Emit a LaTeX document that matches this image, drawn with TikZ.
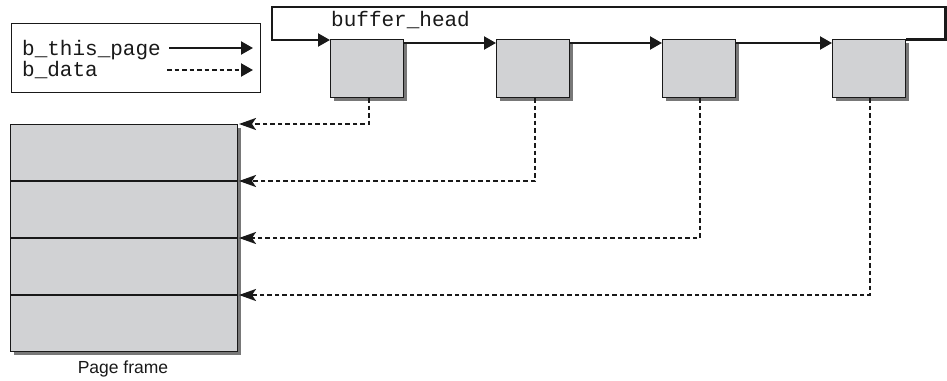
\documentclass[tikz,border=0pt]{standalone}
\usepackage{fontspec}
\setmainfont{Liberation Sans}
\setmonofont{Liberation Mono}
\usetikzlibrary{arrows.meta,shadows,calc}
\definecolor{boxfill}{RGB}{209,210,212}
\definecolor{shd}{RGB}{120,120,120}
\definecolor{ink}{RGB}{25,25,25}
\tikzset{
  bhbox/.style={draw=ink, line width=1.2pt, fill=boxfill, minimum width=73pt, minimum height=58pt, inner sep=0pt, anchor=north west,
    drop shadow={shadow xshift=3.5pt, shadow yshift=-3.5pt, fill=shd, opacity=1}},
  solidarr/.style={draw=ink, line width=2.1pt, -{Triangle[length=12pt,width=13pt]}},
  dasharr/.style={draw=ink, line width=2.1pt, dash pattern=on 4.5pt off 3pt, -{Stealth[length=17pt,width=12pt,inset=4pt]}},
  monotxt/.style={font=\ttfamily\fontsize{21}{24}\selectfont, text=ink, inner sep=0pt},
}
\begin{document}
\begin{tikzpicture}[x=1pt,y=-1pt]
\useasboundingbox (0,0) rectangle (947,380);
% legend
\node[draw=ink, line width=1.2pt, minimum width=249pt, minimum height=69pt, inner sep=0pt, anchor=north west] (legend) at (11,23) {};
\node[monotxt, anchor=base west] (lthis) at (22,55) {b\_this\_page};
\node[monotxt, anchor=base west] (ldata) at (22,76) {b\_data};
\coordinate (ls1) at (169,48);
\coordinate (le1) at (253,48);
\coordinate (ls2) at (167,70);
\coordinate (le2) at (253,70);
\draw[solidarr] (ls1) -- (le1);
\draw[dasharr, -{Triangle[length=12pt,width=13pt]}] (ls2) -- (le2);
% buffer heads
\node[bhbox] (b1) at (330,39) {};
\node[bhbox] (b2) at (496,39) {};
\node[bhbox] (b3) at (662,39) {};
\node[bhbox] (b4) at (832,39) {};
\node[monotxt, anchor=base west] (bhlabel) at (331,27) {buffer\_head};
% ring
\coordinate (c1) at (945.5,39.5);
\coordinate (c2) at (945.5,7);
\coordinate (c3) at (272,7);
\coordinate (c4) at (272,40);
\draw[solidarr] ($(b4.north east)+(0,0.5)$) -- (c1) -- (c2) -- (c3) -- (c4) -- ($(b1.north west)+(0,1)$);
\draw[solidarr] ($(b1.north east)+(0,4)$) -- ($(b2.north west)+(0,4)$);
\draw[solidarr] ($(b2.north east)+(0,4)$) -- ($(b3.north west)+(0,4)$);
\draw[solidarr] ($(b3.north east)+(0,4)$) -- ($(b4.north west)+(0,4)$);
% page frame
\node[bhbox, minimum width=227pt, minimum height=227pt] (pf) at (10,124) {};
\draw[draw=ink, line width=1.2pt] (10,181) -- (237,181);
\draw[draw=ink, line width=1.2pt] (10,238) -- (237,238);
\draw[draw=ink, line width=1.2pt] (10,295) -- (237,295);
\node[font=\fontsize{17.5}{20}\selectfont, text=ink, anchor=base] (pflabel) at (123,373) {Page frame};
\coordinate (t1) at (239,124);
\coordinate (t2) at (239,181);
\coordinate (t3) at (239,238);
\coordinate (t4) at (239,295);
\draw[dasharr] ($(b1.south)+(2,0)$) |- (t1);
\draw[dasharr] ($(b2.south)+(2,0)$) |- (t2);
\draw[dasharr] ($(b3.south)+(1,0)$) |- (t3);
\draw[dasharr] ($(b4.south)+(1,0)$) |- (t4);
\end{tikzpicture}
\end{document}
